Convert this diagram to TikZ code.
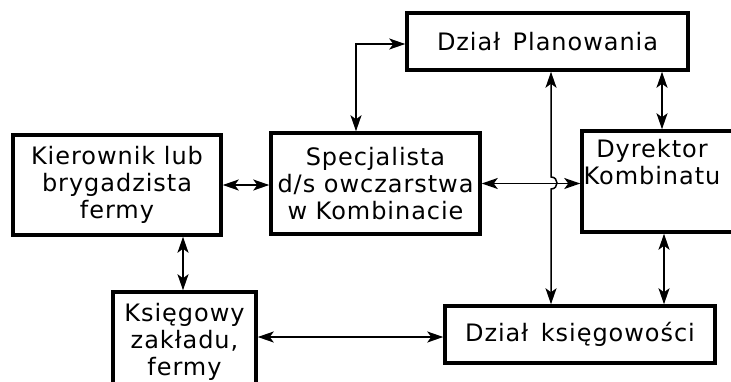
\documentclass[tikz,border=0pt]{standalone}
\usepackage{fontspec}
\setmainfont[LetterSpace=4]{DejaVu Sans}
\usetikzlibrary{arrows.meta}

\begin{document}
\begin{tikzpicture}[x=1pt,y=-1pt,
  txtfont/.style={font=\fontsize{24}{27}\selectfont},
  box/.style={draw, line width=3.5pt, inner sep=0pt, align=center, txtfont},
  lbl/.style={inner sep=0pt, align=center, txtfont},
  link/.style={line width=1.5pt,
    {Stealth[length=16pt,width=11pt,inset=4pt]}-{Stealth[length=16pt,width=11pt,inset=4pt]}}
]
\useasboundingbox (0,0) rectangle (731,381);
\clip (0,0) rectangle (731,381);

% boxes
\node[box, minimum width=208pt, minimum height=100pt] (kier) at (117,185)
  {Kierownik lub\\brygadzista\\fermy};
\node[box, minimum width=209pt, minimum height=101pt] (spec) at (375.5,183.5)
  {Specjalista\\d/s owczarstwa\\w Kombinacie};
\node[box, minimum width=281pt, minimum height=57pt] (plan) at (547.5,41.5)
  {Dział \,Planowania};
% the director's box runs on past the right edge of the page
\node[box, minimum width=220pt, minimum height=101pt] (dyr) at (692,181.5) {};
\node[lbl] (dyrtxt) at (652,162) {Dyrektor\\Kombinatu};
\node[box, minimum width=143pt, minimum height=100pt] (ksieg) at (184.5,342)
  {Księgowy\\zakładu,\\fermy};
\node[box, minimum width=270pt, minimum height=57pt] (ksg) at (580,334.5)
  {Dział \,księgowości};

% helper points for the connector lines
\coordinate (c1) at (662,100);
\coordinate (c2) at (664,280);
\coordinate (c3) at (183,260);
\coordinate (c4) at (356,44);
\coordinate (c5) at (400,337);
\coordinate (hopt) at (551,177);
\coordinate (hopb) at (551,189);

% connectors
\draw[link] (kier.east) -- (kier.east -| spec.west);
\draw[link] (kier.south -| c3) -- (ksieg.north -| c3);
\draw[link] (plan.west |- c4) -- (c4) -- (spec.north -| c4);
\draw[link] (spec.east) -- (spec.east -| dyr.west);
\draw[link] (plan.south -| hopt) -- (hopt)
  .. controls (559,177) and (559,189) .. (hopb) -- (ksg.north -| hopb);
\draw[link] (plan.south -| c1) -- (dyr.north -| c1);
\draw[link] (dyr.south -| c2) -- (ksg.north -| c2);
\draw[link] (ksieg.east |- c5) -- (ksg.west |- c5);
\end{tikzpicture}
\end{document}
